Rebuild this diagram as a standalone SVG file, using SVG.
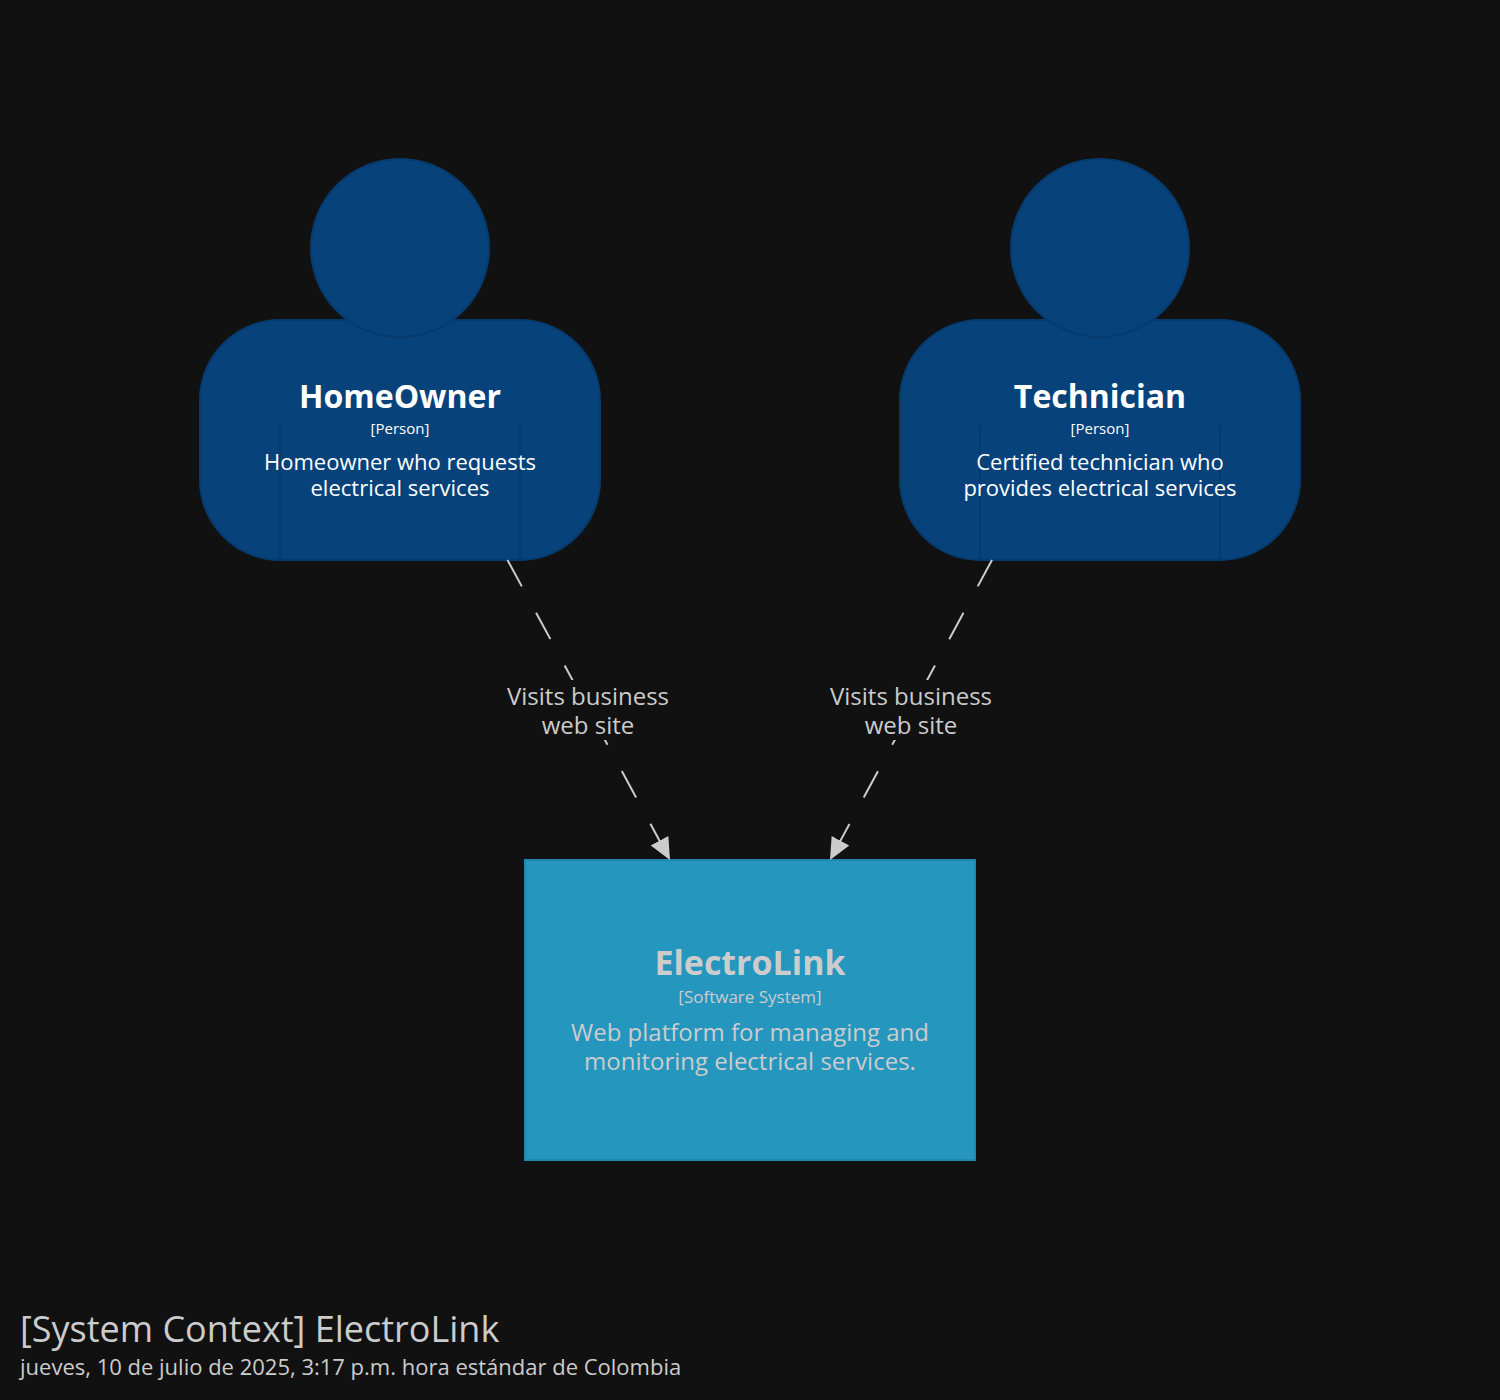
<svg xmlns="http://www.w3.org/2000/svg" width="1500" height="1400" viewBox="0 0 1500 1400">
  <defs>
    <marker id="arrow" markerUnits="userSpaceOnUse" markerWidth="24" markerHeight="24" refX="22" refY="10" orient="auto" viewBox="0 0 24 20">
      <path d="M0,0 L22,10 L0,20 Z" fill="#cccccc"/>
    </marker>
  </defs>
  <style>
    text { font-family: "Open Sans", "Noto Sans", "Liberation Sans", sans-serif; text-anchor: middle; }
    .person-body { fill: #08427b; stroke: #073b6e; stroke-width: 2; }
    .person-head { fill: #08427b; stroke: #073b6e; stroke-width: 2; }
    .inner { stroke: #073a6c; stroke-width: 1.5; }
    .pname { fill: #ffffff; font-size: 32px; font-weight: bold; }
    .ptype { fill: #ffffff; font-size: 15px; }
    .pdesc { fill: #ffffff; font-size: 22px; }
    .sys { fill: #2596be; stroke: #1f86ad; stroke-width: 2; }
    .sname { fill: #cccccc; font-size: 34px; font-weight: bold; }
    .stype { fill: #cccccc; font-size: 17px; }
    .sdesc { fill: #cccccc; font-size: 24px; }
    .edge { stroke: #cccccc; stroke-width: 2; stroke-dasharray: 30 30; fill: none; }
    .label-bg { fill: #111111; }
    .label { fill: #cccccc; font-size: 24px; }
    .title { fill: #cccccc; font-size: 36px; text-anchor: start; }
    .subtitle { fill: #cccccc; font-size: 22px; text-anchor: start; }
  </style>
  <rect x="0" y="0" width="1500" height="1400" fill="#111111"/>

  <g id="homeowner">
    <rect class="person-body" x="200" y="320" width="400" height="240" rx="80" ry="80"/>
    <line class="inner" x1="280" y1="425" x2="280" y2="559"/>
    <line class="inner" x1="520" y1="425" x2="520" y2="559"/>
    <circle class="person-head" cx="400" cy="248" r="89"/>
    <text class="pname" x="400" y="408">HomeOwner</text>
    <text class="ptype" x="400" y="434">[Person]</text>
    <text class="pdesc" x="400" y="470">Homeowner who requests</text>
    <text class="pdesc" x="400" y="496">electrical services</text>
  </g>

  <g id="technician">
    <rect class="person-body" x="900" y="320" width="400" height="240" rx="80" ry="80"/>
    <line class="inner" x1="980" y1="425" x2="980" y2="559"/>
    <line class="inner" x1="1220" y1="425" x2="1220" y2="559"/>
    <circle class="person-head" cx="1100" cy="248" r="89"/>
    <text class="pname" x="1100" y="408">Technician</text>
    <text class="ptype" x="1100" y="434">[Person]</text>
    <text class="pdesc" x="1100" y="470">Certified technician who</text>
    <text class="pdesc" x="1100" y="496">provides electrical services</text>
  </g>

  <g id="electrolink">
    <rect class="sys" x="525" y="860" width="450" height="300"/>
    <text class="sname" x="750" y="975">ElectroLink</text>
    <text class="stype" x="750" y="1003">[Software System]</text>
    <text class="sdesc" x="750" y="1041">Web platform for managing and</text>
    <text class="sdesc" x="750" y="1070">monitoring electrical services.</text>
  </g>

  <g id="connectors">
    <g id="edge-homeowner-electrolink">
      <line class="edge" x1="507.5" y1="560" x2="670" y2="860" marker-end="url(#arrow)"/>
      <rect class="label-bg" x="505" y="680" width="166" height="60"/>
      <text class="label" x="588" y="705">Visits business</text>
      <text class="label" x="588" y="734">web site</text>
    </g>
    <g id="edge-technician-electrolink">
      <line class="edge" x1="992" y1="560" x2="830" y2="860" marker-end="url(#arrow)"/>
      <rect class="label-bg" x="828" y="680" width="166" height="60"/>
      <text class="label" x="911" y="705">Visits business</text>
      <text class="label" x="911" y="734">web site</text>
    </g>
  </g>

  <g id="caption">
    <text class="title" x="20" y="1342">[System Context] ElectroLink</text>
    <text class="subtitle" x="20" y="1375">jueves, 10 de julio de 2025, 3:17 p.m. hora estándar de Colombia</text>
  </g>
</svg>
